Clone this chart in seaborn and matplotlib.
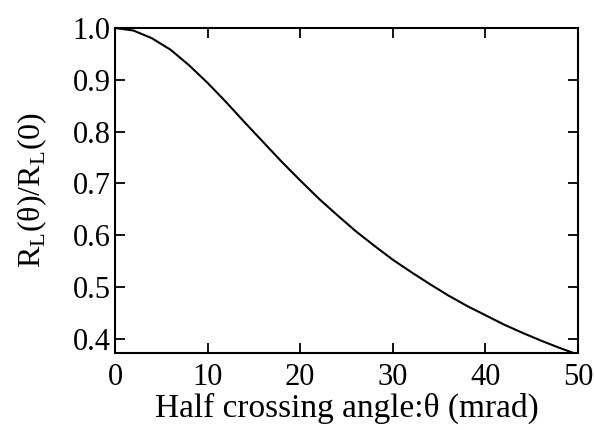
import matplotlib
matplotlib.use("Agg")
import matplotlib.pyplot as plt
import seaborn as sns
import pandas as pd

# Luminosity reduction versus half crossing angle
theta_mrad = [0, 2, 4, 6, 8, 10, 12, 14, 16, 18, 20, 22, 24,
              26, 28, 30, 32, 34, 36, 38, 40, 42, 44, 46, 48, 50]
lum_ratio = [1.000, 0.995, 0.980, 0.958, 0.928, 0.894, 0.857, 0.818,
             0.780, 0.742, 0.706, 0.671, 0.639, 0.608, 0.580, 0.553,
             0.529, 0.506, 0.484, 0.464, 0.446, 0.428, 0.412, 0.397,
             0.383, 0.370]

x_ticks = [0, 10, 20, 30, 40, 50]
y_ticks = [0.4, 0.5, 0.6, 0.7, 0.8, 0.9, 1.0]

sns.set_theme(style="ticks")
plt.rcParams["font.family"] = ["Liberation Serif", "DejaVu Serif"]
plt.rcParams["mathtext.fontset"] = "custom"
plt.rcParams["mathtext.rm"] = "Liberation Serif"

df = pd.DataFrame({"theta": theta_mrad, "ratio": lum_ratio})

fig = plt.figure(figsize=(5.94, 4.30), dpi=100)
ax = fig.add_axes([0.1936, 0.179, 0.7794, 0.756])

sns.lineplot(data=df, x="theta", y="ratio", color="black", linewidth=1.5, ax=ax)

ax.set_xlim(0, 50)
ax.set_ylim(0.373, 1.0)
ax.set_xticks(x_ticks)
ax.set_yticks(y_ticks)
ax.set_xticklabels([str(v) for v in x_ticks])
ax.set_yticklabels([f"{v:.1f}" for v in y_ticks])

for s in ax.spines.values():
    s.set_visible(True)
    s.set_linewidth(1.5)
    s.set_color("black")

ax.tick_params(direction="in", length=7, width=1.3, top=True, right=True,
               labelsize=22, colors="black", pad=3)
ax.tick_params(axis="x", pad=7)

ax.set_xlabel("Half crossing angle:θ (mrad)", fontsize=24, color="black", labelpad=1)
ax.set_ylabel(r"R$_\mathrm{L}$(θ)/R$_\mathrm{L}$(0)", fontsize=23, color="black", labelpad=17)

fig.savefig("out.png", dpi=100, facecolor="white")
